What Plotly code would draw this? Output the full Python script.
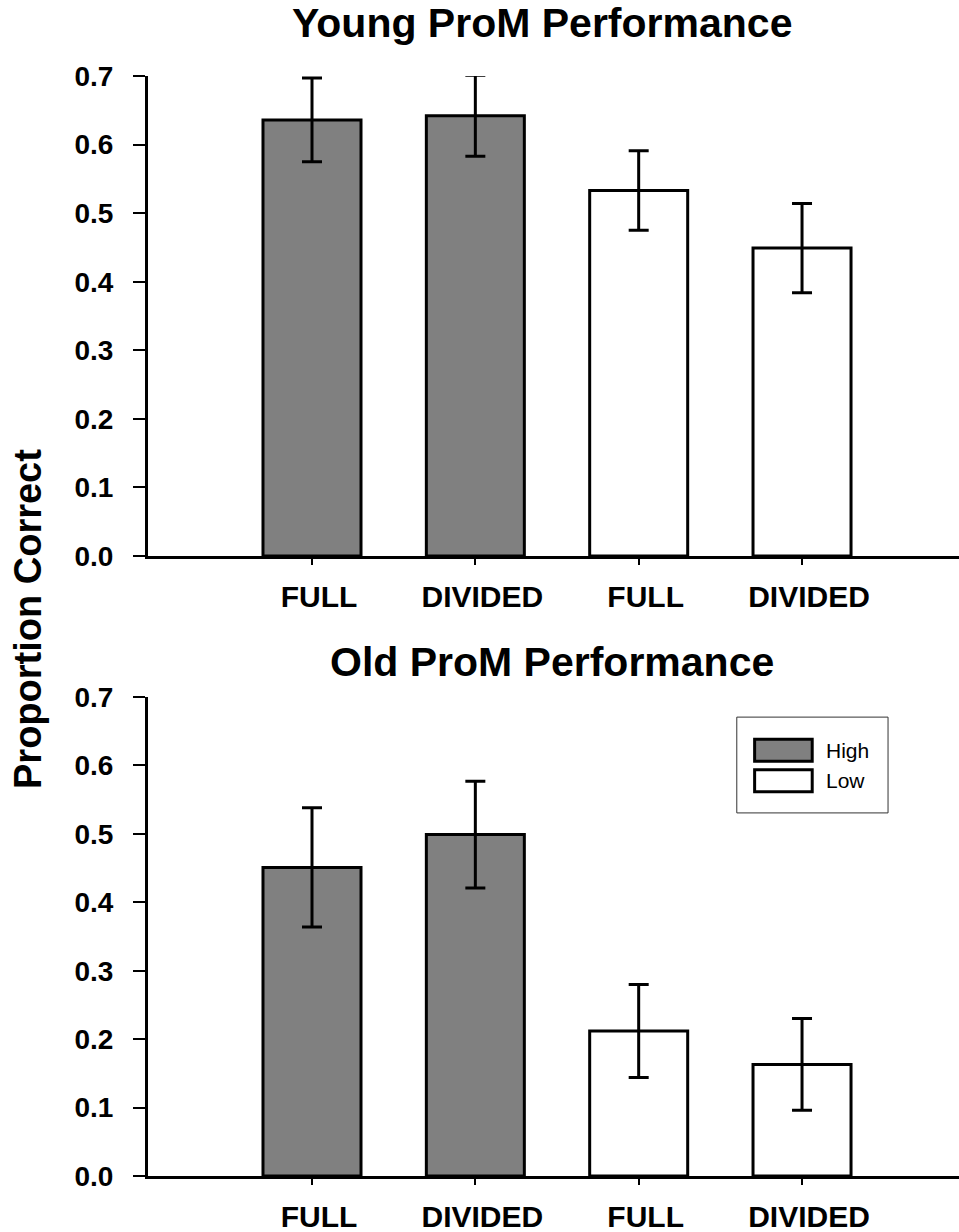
import plotly.graph_objects as go
from plotly.subplots import make_subplots

# Conditions along the x axis and the span group of each bar
conditions = ["FULL", "DIVIDED", "FULL", "DIVIDED"]
span_groups = ["High", "High", "Low", "Low"]
group_colors = {"High": "#808080", "Low": "#ffffff"}

# Proportion correct (mean) and error for each panel
young_mean = [0.636, 0.642, 0.533, 0.449]
young_err = [0.061, 0.059, 0.058, 0.065]
old_mean = [0.451, 0.499, 0.212, 0.163]
old_err = [0.087, 0.078, 0.068, 0.067]

panel_titles = ["Young ProM Performance", "Old ProM Performance"]
y_ticks = [0.0, 0.1, 0.2, 0.3, 0.4, 0.5, 0.6, 0.7]

FONT = "Liberation Sans, Arial, sans-serif"

W, H = 959, 1232
ML, MR, MT, MB = 148, 0, 76, 56
plot_w = W - ML - MR
plot_h = H - MT - MB

fig = make_subplots(rows=2, cols=1, vertical_spacing=0.128)

positions = list(range(len(conditions)))

for row, (means, errs) in enumerate([(young_mean, young_err), (old_mean, old_err)], start=1):
    for grp in ["High", "Low"]:
        idx = [i for i, g in enumerate(span_groups) if g == grp]
        fig.add_trace(
            go.Bar(
                x=[positions[i] for i in idx],
                y=[means[i] for i in idx],
                width=0.6,
                name=grp,
                showlegend=False,
                marker=dict(color=group_colors[grp], line=dict(color="black", width=3)),
                error_y=dict(type="data", array=[errs[i] for i in idx],
                             color="black", thickness=3, width=10),
            ),
            row=row, col=1,
        )

# domains in pixel terms
top_dom = [(1176 - 556) / plot_h, 1.0]
bot_dom = [0.0, (1176 - 697) / plot_h]

axis_common_x = dict(
    range=[-1.004, 3.961],
    tickmode="array",
    tickvals=positions,
    ticktext=conditions,
    showline=True, linecolor="black", linewidth=3,
    ticks="outside", ticklen=6, tickwidth=1.5, tickcolor="black",
    tickfont=dict(family=FONT, size=30, color="black", weight="bold"),
    showgrid=False, zeroline=False,
    ticklabelshift=7,
    ticklabelstandoff=6,
)
axis_common_y = dict(
    range=[0, 0.7],
    tickmode="array",
    tickvals=y_ticks,
    ticktext=[f"{v:.1f}" for v in y_ticks],
    showline=True, linecolor="black", linewidth=3,
    ticks="outside", ticklen=12, tickwidth=1.5, tickcolor="black",
    tickfont=dict(family=FONT, size=28, color="black", weight="bold"),
    showgrid=False, zeroline=False,
    ticklabelstandoff=14,
)

fig.update_xaxes(**axis_common_x)
fig.update_yaxes(**axis_common_y)
fig.update_yaxes(domain=top_dom, row=1, col=1)
fig.update_yaxes(domain=bot_dom, row=2, col=1)

def px_to_paper_x(px):
    return (px - ML) / plot_w

def px_to_paper_y(py):
    return (H - MB - py) / plot_h

annotations = []
# panel titles
for title, cx, cy in [(panel_titles[0], 542, 23), (panel_titles[1], 552, 662)]:
    annotations.append(dict(
        text=title, xref="paper", yref="paper",
        x=px_to_paper_x(cx), y=px_to_paper_y(cy),
        xanchor="center", yanchor="middle", showarrow=False,
        font=dict(family=FONT, size=41, color="black", weight="bold"),
    ))

# shared y axis title
annotations.append(dict(
    text="Proportion Correct", xref="paper", yref="paper",
    x=px_to_paper_x(28), y=px_to_paper_y(619),
    xanchor="center", yanchor="middle", textangle=-90, showarrow=False,
    font=dict(family=FONT, size=38, color="black", weight="bold"),
))

# legend in the lower panel
shapes = []
shapes.append(dict(type="rect", xref="x2 domain", yref="y2 domain",
                   x0=0.726, x1=0.9125, y0=0.758, y1=0.958,
                   line=dict(color="#333333", width=1), fillcolor="white", layer="above"))
legend_rows = [("High", 0.866, 0.912, 0.889), ("Low", 0.802, 0.848, 0.825)]
for grp, y0, y1, ty in legend_rows:
    shapes.append(dict(type="rect", xref="x2 domain", yref="y2 domain",
                       x0=0.748, x1=0.819, y0=y0, y1=y1,
                       line=dict(color="black", width=3),
                       fillcolor=group_colors[grp], layer="above"))
    annotations.append(dict(
        text=grp, xref="x2 domain", yref="y2 domain", x=0.833, y=ty,
        xanchor="left", yanchor="middle", showarrow=False,
        font=dict(family=FONT, size=21, color="black"),
    ))

fig.update_layout(
    width=W, height=H,
    margin=dict(l=ML, r=MR, t=MT, b=MB),
    plot_bgcolor="white", paper_bgcolor="white",
    bargap=0.4,
    annotations=annotations,
    shapes=shapes,
    showlegend=False,
)

fig.write_html("out.html")
